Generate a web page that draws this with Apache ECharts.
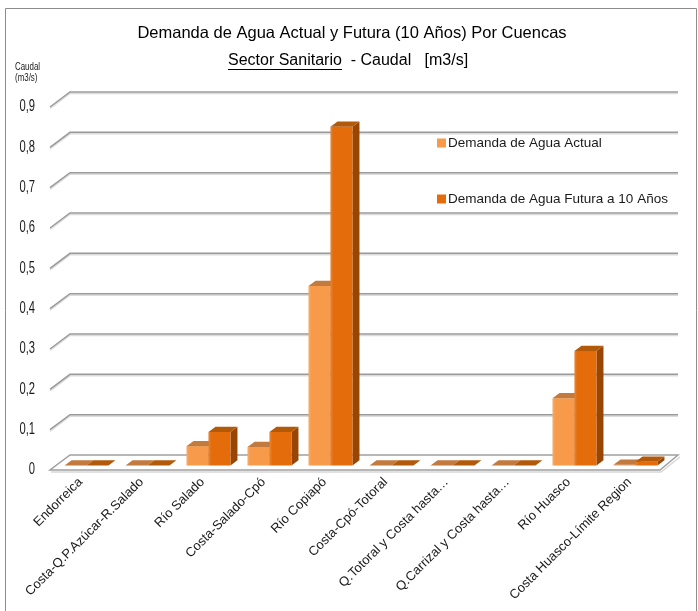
<!DOCTYPE html>
<html>
<head>
<meta charset="utf-8">
<script src="https://cdn.jsdelivr.net/npm/echarts@6/dist/echarts.min.js"></script>
<style>
  html, body { margin: 0; padding: 0; background: #fff; }
  #chart { width: 698px; height: 611px; }
</style>
</head>
<body>
<div id="chart"></div>
<script>
// Basins (cuencas) along the region, north to south
const categories = [
  'Endorreica',
  'Costa-Q.P.Azúcar-R.Salado',
  'Río Salado',
  'Costa-Salado-Cpó',
  'Río Copiapó',
  'Costa-Cpó-Totoral',
  'Q.Totoral y Costa hasta…',
  'Q.Carrizal y Costa hasta…',
  'Río Huasco',
  'Costa Huasco-Límite Region'
];

// Sanitary-sector water demand, m3/s
const demandaActual = [0, 0, 0.048, 0.046, 0.445, 0, 0, 0, 0.167, 0.002];
const demandaFutura = [0, 0, 0.083, 0.083, 0.84, 0, 0, 0, 0.284, 0.009];

const seriesNames = ['Demanda de Agua Actual', 'Demanda de Agua Futura a 10 Años'];

// Value-axis ticks and their printed labels (decimal comma)
const yTicks = [0, 0.1, 0.2, 0.3, 0.4, 0.5, 0.6, 0.7, 0.8, 0.9];
const yTickLabels = ['0', '0,1', '0,2', '0,3', '0,4', '0,5', '0,6', '0,7', '0,8', '0,9'];

// Oblique projection of the 3D box: depth of the walls and where bars sit in it
const WALL_DX = 20, WALL_DY = -15;
const BAR_FRONT = 0.3, BAR_BACK = 0.65;
const BAR_FRAC = 0.36;

const palette = [
  { front: '#F79A4A', side: '#B8682A', top: '#C27A3E' },
  { front: '#E46C0A', side: '#984606', top: '#B35A0A' }
];

const FONT = '"Liberation Sans", Arial, sans-serif';

// Back-wall gridlines with their left-wall diagonals, plus the narrow tick labels
function wallRender(params, api) {
  const cs = params.coordSys;
  const idx = params.dataIndex;
  const v = api.value(1);
  const y = api.coord([0, v])[1];
  const xl = cs.x, xr = cs.x + cs.width;
  const pts = [[xl, y], [xl + WALL_DX, y + WALL_DY], [xr + WALL_DX - 2, y + WALL_DY]];
  const children = [];
  if (v > 0) {
    children.push({ type: 'polyline', shape: { points: pts.map(p => [p[0], p[1] + 1.5]) },
      style: { stroke: '#dcdcdc', lineWidth: 1.5, fill: null }, silent: true });
    children.push({ type: 'polyline', shape: { points: pts },
      style: { stroke: '#9a9a9a', lineWidth: 1.5, fill: null }, silent: true });
  }
  children.push({
    type: 'text', x: xl - 15, y: y, scaleX: 0.7, silent: true,
    style: { text: yTickLabels[idx], font: '16px ' + FONT, fill: '#1a1a1a',
             align: 'right', verticalAlign: 'middle' }
  });
  return { type: 'group', children: children };
}

function floorRender(params, api) {
  const cs = params.coordSys;
  const y = api.coord([0, 0])[1];
  const xl = cs.x, xr = cs.x + cs.width;
  const poly = [[xl, y], [xr, y], [xr + WALL_DX - 2, y + WALL_DY], [xl + WALL_DX, y + WALL_DY]];
  return {
    type: 'group',
    children: [
      { type: 'polyline', shape: { points: [[xl + 1, y + 2], [xr + 1, y + 2], [xr + WALL_DX, y + WALL_DY + 2]] },
        style: { stroke: '#d8d8d8', lineWidth: 1.5, fill: null }, silent: true },
      { type: 'polygon', shape: { points: poly },
        style: { fill: '#ffffff', stroke: '#a0a0a0', lineWidth: 1.5 }, silent: true }
    ]
  };
}

function makeBarRender(idx) {
  return function (params, api) {
    const ci = api.value(0);
    const v = api.value(1);
    const base = api.coord([ci, 0]);
    const topPt = api.coord([ci, v]);
    const bw = api.size([1, 0])[0];
    const w = bw * BAR_FRAC;
    const fdx = WALL_DX * BAR_FRONT, fdy = WALL_DY * BAR_FRONT;
    const ddx = WALL_DX * (BAR_BACK - BAR_FRONT), ddy = WALL_DY * (BAR_BACK - BAR_FRONT);
    const x0 = base[0] + fdx + (idx === 0 ? -w : 0);
    const x1 = x0 + w;
    const yb = base[1] + fdy;
    const yt = topPt[1] + fdy;
    const c = palette[idx];
    const children = [];
    if (yb - yt > 0.3) {
      children.push({ type: 'polygon', shape: { points: [[x1, yb], [x1 + ddx, yb + ddy], [x1 + ddx, yt + ddy], [x1, yt]] },
        style: { fill: c.side } });
      children.push({ type: 'rect', shape: { x: x0, y: yt, width: w, height: yb - yt },
        style: { fill: c.front } });
      children.push({ type: 'rect', shape: { x: x0, y: yt, width: 2, height: yb - yt },
        style: { fill: 'rgba(255,255,255,0.12)' } });
    }
    children.push({ type: 'polygon', shape: { points: [[x0, yt], [x1, yt], [x1 + ddx, yt + ddy], [x0 + ddx, yt + ddy]] },
      style: { fill: c.top } });
    return { type: 'group', children: children };
  };
}

const chart = echarts.init(document.getElementById('chart'), null, { renderer: 'canvas' });

chart.setOption({
  animation: false,
  backgroundColor: '#ffffff',
  title: [
    {
      text: 'Demanda de Agua Actual y Futura (10 Años) Por Cuencas',
      left: 352, textAlign: 'center', top: 25, padding: 0,
      textStyle: { fontFamily: FONT, fontSize: 16.5, fontWeight: 'normal', color: '#000' }
    },
    {
      text: 'Sector Sanitario  - Caudal   [m3/s]',
      left: 228, top: 53, padding: 0,
      textStyle: { fontFamily: FONT, fontSize: 16, fontWeight: 'normal', color: '#000' }
    }
  ],
  legend: {
    data: seriesNames,
    orient: 'vertical',
    left: 432, top: 131,
    itemWidth: 9, itemHeight: 9, itemGap: 42,
    icon: 'rect',
    textStyle: { fontFamily: FONT, fontSize: 13.5, color: '#1a1a1a', padding: [0, 0, 0, -3] }
  },
  grid: { left: 50, right: 38, top: 107, bottom: 141, containLabel: false },
  xAxis: {
    type: 'category',
    data: categories,
    axisLine: { show: false },
    axisTick: { show: false },
    axisLabel: {
      interval: 0, rotate: 45, margin: 10,
      fontFamily: FONT, fontSize: 13, color: '#1a1a1a'
    }
  },
  yAxis: {
    type: 'value',
    min: 0, max: 0.9, interval: 0.1,
    axisLine: { show: false },
    axisTick: { show: false },
    splitLine: { show: false },
    axisLabel: { show: false }
  },
  graphic: [
    { type: 'rect', shape: { x: 5.5, y: 8.5, width: 691, height: 640 },
      style: { fill: null, stroke: '#8c8c8c', lineWidth: 1 }, z: 100, silent: true },
    { type: 'line', shape: { x1: 228, y1: 69.5, x2: 342, y2: 69.5 },
      style: { stroke: '#000', lineWidth: 1 }, z: 100, silent: true },
    { type: 'text', x: 15, y: 61, scaleX: 0.72,
      style: { text: 'Caudal\n(m3/s)', font: '11px ' + FONT, fill: '#1a1a1a', lineHeight: 11 }, z: 100 }
  ],
  series: [
    {
      type: 'custom', name: 'walls', silent: true,
      renderItem: wallRender,
      data: yTicks.map(v => [0, v]),
      encode: { x: 0, y: 1 }, z: 1
    },
    {
      type: 'custom', name: 'floor', silent: true,
      renderItem: floorRender,
      data: [[0, 0]],
      encode: { x: 0, y: 1 }, z: 2
    },
    {
      type: 'custom', name: seriesNames[0],
      renderItem: makeBarRender(0),
      itemStyle: { color: palette[0].front },
      data: demandaActual.map((v, i) => [i, v]),
      encode: { x: 0, y: 1 }, z: 3
    },
    {
      type: 'custom', name: seriesNames[1],
      renderItem: makeBarRender(1),
      itemStyle: { color: palette[1].front },
      data: demandaFutura.map((v, i) => [i, v]),
      encode: { x: 0, y: 1 }, z: 4
    }
  ]
});
</script>
</body>
</html>
